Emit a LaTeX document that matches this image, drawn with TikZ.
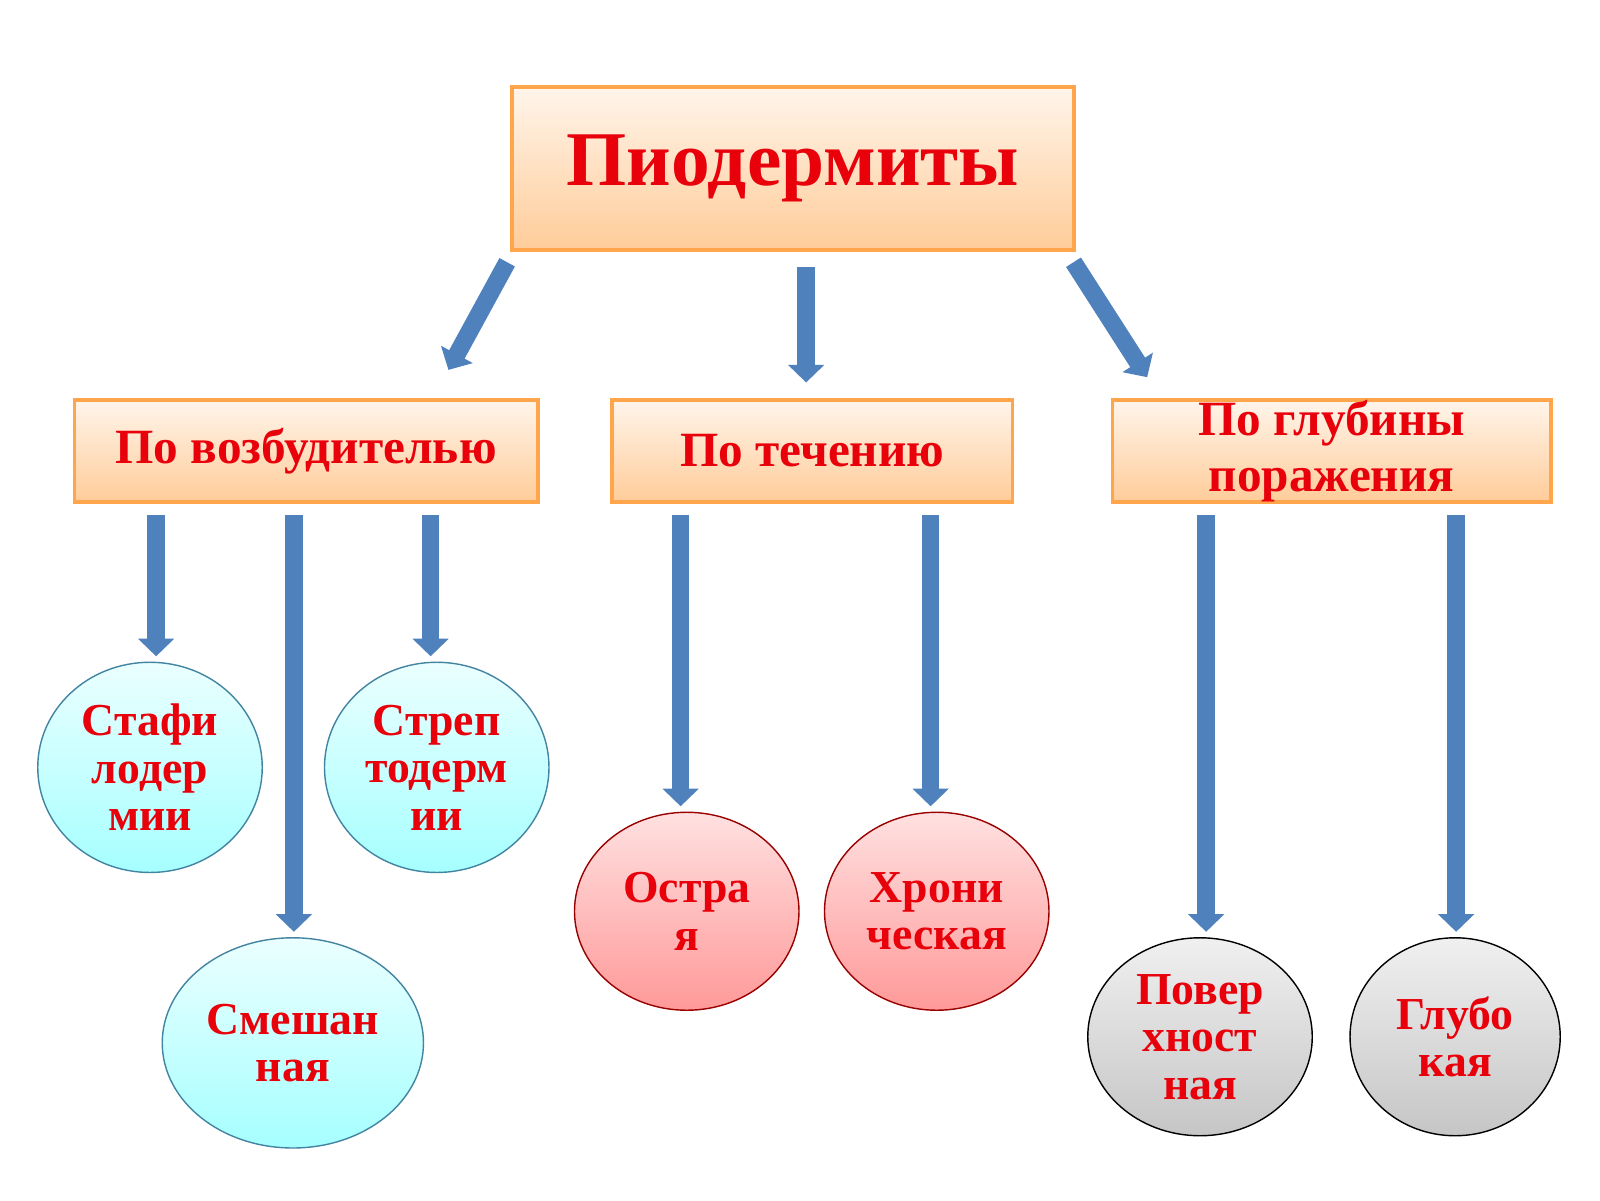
\documentclass[tikz,border=0pt]{standalone}
\usepackage{fontspec}
\setmainfont{Liberation Serif}
\usetikzlibrary{arrows.meta,shapes.geometric}
\definecolor{arrowblue}{HTML}{4F81BD}
\definecolor{textred}{HTML}{E8000B}

\begin{document}
\begin{tikzpicture}[x=0.0102cm,y=-0.0102cm,
  head box/.style={draw=orange!70, line width=1pt, top color=orange!8, bottom color=orange!40, font=\bfseries\fontsize{14}{16}\selectfont, text=textred, align=center, inner sep=0pt},
  blue oval/.style={ellipse, draw=cyan!60!black, top color=cyan!8, bottom color=cyan!35, font=\bfseries\fontsize{13}{13.5}\selectfont, text=textred, align=center, inner sep=0pt},
  pink oval/.style={ellipse, draw=red!60!black, top color=red!12, bottom color=red!40, font=\bfseries\fontsize{13}{13.5}\selectfont, text=textred, align=center, inner sep=0pt},
  grey oval/.style={ellipse, draw=black, top color=gray!12, bottom color=gray!45, font=\bfseries\fontsize{13}{13.5}\selectfont, text=textred, align=center, inner sep=0pt},
  link/.style={draw=white, line width=9pt, -{Triangle[length=7pt,width=13pt]}, postaction={draw=arrowblue, line width=5pt, -{Triangle[length=5pt,width=10pt]}, shorten >=1.5pt}}]

  \useasboundingbox (0,0) rectangle (1568,1176);

  % boxes
  \node[head box, minimum width=551*0.0102cm, minimum height=160*0.0102cm, font=\bfseries\fontsize{22}{24}\selectfont] (root) at (777,165) {Пиодермиты};
  \node[head box, minimum width=454*0.0102cm, minimum height=100*0.0102cm] (agent) at (300,442) {По возбудителью};
  \node[head box, minimum width=392*0.0102cm, minimum height=100*0.0102cm] (course) at (796,442) {По течению};
  \node[head box, minimum width=430*0.0102cm, minimum height=100*0.0102cm] (depth) at (1305,442) {По глубины\\поражения};

  % ovals
  \node[blue oval, minimum width=220*0.0102cm, minimum height=206*0.0102cm] (staph) at (147,752) {Стафи\\лодер\\мии};
  \node[blue oval, minimum width=220*0.0102cm, minimum height=206*0.0102cm] (strep) at (428,752) {Стреп\\тодерм\\ии};
  \node[blue oval, minimum width=256*0.0102cm, minimum height=206*0.0102cm] (mixed) at (287,1022) {Смешан\\ная};
  \node[pink oval, minimum width=220*0.0102cm, minimum height=194*0.0102cm] (acute) at (673,893) {Остра\\я};
  \node[pink oval, minimum width=220*0.0102cm, minimum height=194*0.0102cm] (chronic) at (918,893) {Хрони\\ческая};
  \node[grey oval, minimum width=220*0.0102cm, minimum height=194*0.0102cm] (surface) at (1176,1016) {Повер\\хност\\ная};
  \node[grey oval, minimum width=206*0.0102cm, minimum height=194*0.0102cm] (deep) at (1426,1016) {Глубо\\кая};

  % arrow ends
  \coordinate (r1) at (497,257); \coordinate (r1e) at (437,367);
  \coordinate (r2) at (790,262); \coordinate (r2e) at (790,380);
  \coordinate (r3) at (1052,257); \coordinate (r3e) at (1127,374);
  \coordinate (a1) at (153,505); \coordinate (a2) at (288,505); \coordinate (a3) at (422,505);
  \coordinate (c1) at (667,505); \coordinate (c2) at (912,505);
  \coordinate (d1) at (1182,505); \coordinate (d2) at (1427,505);

  \draw[link] (r1) -- (r1e);
  \draw[link] (r2) -- (r2e);
  \draw[link] (r3) -- (r3e);
  \draw[link] (a1) -- (staph.north -| a1);
  \draw[link] (a2) -- (mixed.north -| a2);
  \draw[link] (a3) -- (strep.north -| a3);
  \draw[link] (c1) -- (acute.north -| c1);
  \draw[link] (c2) -- (chronic.north -| c2);
  \draw[link] (d1) -- (surface.north -| d1);
  \draw[link] (d2) -- (deep.north -| d2);
\end{tikzpicture}
\end{document}
